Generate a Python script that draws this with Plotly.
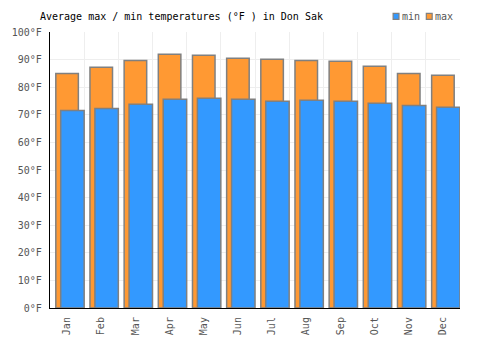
import plotly.graph_objects as go

months = ["Jan", "Feb", "Mar", "Apr", "May", "Jun", "Jul", "Aug", "Sep", "Oct", "Nov", "Dec"]
temp_min = [71.6, 72.3, 73.8, 75.6, 76.0, 75.6, 74.9, 75.3, 74.9, 74.2, 73.4, 72.7]
temp_max = [85.0, 87.2, 89.7, 91.9, 91.6, 90.5, 90.1, 89.7, 89.4, 87.6, 85.0, 84.3]

FONT = "DejaVu Sans Mono"
BLUE = "#3399ff"
ORANGE = "#ff9933"
EDGE = "#808080"

fig = go.Figure()
fig.add_trace(go.Bar(
    x=months, y=temp_max, name="max",
    marker=dict(color=ORANGE, line=dict(color=EDGE, width=1.5)),
    offset=-0.33, width=0.66, showlegend=False,
))
fig.add_trace(go.Bar(
    x=months, y=temp_min, name="min",
    marker=dict(color=BLUE, line=dict(color=EDGE, width=1.5)),
    offset=-0.186, width=0.686, showlegend=False,
))

W, H = 500, 350
ml, mr, mt, mb = 40.5, 39.5, 31.7, 41.7
fig.update_layout(
    width=W, height=H,
    margin=dict(l=ml, r=mr, t=mt, b=mb, pad=0),
    barmode="overlay",
    plot_bgcolor="white", paper_bgcolor="white",
    font=dict(family=FONT, size=10, color="#555555"),
    showlegend=False,
    title=dict(text="Average max / min temperatures (°F ) in Don Sak",
               x=40 / W, xanchor="left", y=1 - 16.5 / H, yanchor="middle",
               font=dict(family=FONT, size=10, color="#000000")),
    xaxis=dict(
        type="category", tickson="boundaries", showgrid=True, gridcolor="#eeeeee",
        gridwidth=1, ticks="", tickangle=-90, showline=True, linecolor="#000000",
        linewidth=1.2, tickfont=dict(family=FONT, size=10, color="#555555"),
        range=[-0.5, 11.5], ticklabelstandoff=4,
    ),
    yaxis=dict(
        range=[0, 100], dtick=10, ticksuffix="°F", showgrid=True, gridcolor="#eeeeee",
        gridwidth=1, showline=True, linecolor="#000000", linewidth=1.2, ticks="",
        zeroline=False, tickfont=dict(family=FONT, size=10, color="#555555"),
        ticklabelstandoff=5,
    ),
)

# custom legend
pw = W - ml - mr
ph = H - mt - mb
for x0, color, label in [(392, BLUE, "min"), (426, ORANGE, "max")]:
    fig.add_shape(type="rect", xref="paper", yref="paper",
                  x0=(x0 - ml) / pw, x1=(x0 + 6 - ml) / pw,
                  y0=(H - mb - 19) / ph, y1=(H - mb - 13) / ph,
                  fillcolor=color, line=dict(color=EDGE, width=1.2))
    fig.add_annotation(xref="paper", yref="paper", x=(x0 + 7 - ml) / pw,
                       y=(H - mb - 16) / ph, text=label, showarrow=False,
                       xanchor="left", yanchor="middle",
                       font=dict(family=FONT, size=10, color="#555555"))

fig.write_html("out.html")
